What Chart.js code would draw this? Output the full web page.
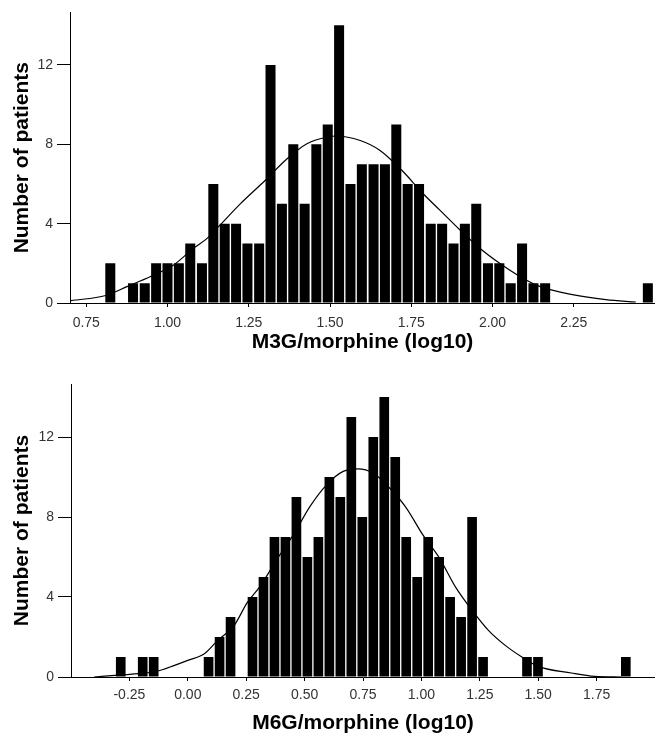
<!DOCTYPE html>
<html>
<head>
<meta charset="utf-8">
<script src="https://cdn.jsdelivr.net/npm/chart.js@4.4.0/dist/chart.umd.min.js"></script>
<style>
    body { margin: 0; background: #fff; overflow: hidden; }
    #top { position: absolute; left: 0; top: 0; }
    #bottom { position: absolute; left: 0; top: 360px; }
</style>
</head>
<body>
<canvas id="top" width="655" height="360"></canvas>
<canvas id="bottom" width="655" height="373"></canvas>
<script>
// M3G/morphine histogram: bin centres (log10) and patient counts
const m3gBins = [0.824, 0.859, 0.894, 0.930, 0.965, 1.000, 1.035, 1.070, 1.106, 1.141,
    1.176, 1.211, 1.246, 1.282, 1.317, 1.352, 1.387, 1.422, 1.458, 1.493,
    1.528, 1.563, 1.598, 1.634, 1.669, 1.704, 1.739, 1.774, 1.810, 1.845,
    1.880, 1.915, 1.950, 1.986, 2.021, 2.056, 2.091, 2.126, 2.162, 2.197,
    2.232, 2.267, 2.302, 2.338, 2.373, 2.408, 2.443, 2.478];
const m3gCounts = [2, 0, 1, 1, 2, 2, 2, 3, 2, 6,
    4, 4, 3, 3, 12, 5, 8, 5, 8, 9,
    14, 6, 7, 7, 7, 9, 6, 6, 4, 4,
    3, 4, 5, 2, 2, 1, 3, 1, 1, 0,
    0, 0, 0, 0, 0, 0, 0, 1];
// fitted normal curve
const m3gCurveX = [0.703, 0.810, 0.877, 0.948, 1.019, 1.080, 1.122, 1.157, 1.224, 1.301,
    1.368, 1.429, 1.490, 1.520, 1.593, 1.654, 1.721, 1.786, 1.838, 1.900,
    1.961, 2.022, 2.084, 2.145, 2.246, 2.349, 2.441];
const m3gCurveY = [0.12, 0.38, 0.84, 1.34, 1.92, 2.76, 3.26, 3.85, 5.0, 6.19,
    7.27, 8.03, 8.36, 8.42, 8.19, 7.69, 6.69, 5.52, 4.68, 3.68,
    2.76, 2.0, 1.34, 0.84, 0.42, 0.17, 0.05];
const m3gTicks = [0.75, 1.00, 1.25, 1.50, 1.75, 2.00, 2.25];

// M6G/morphine histogram
const m6gBins = [-0.287, -0.240, -0.193, -0.146, -0.099, -0.052, -0.005, 0.042, 0.089, 0.136,
    0.183, 0.230, 0.277, 0.324, 0.371, 0.418, 0.465, 0.512, 0.559, 0.606,
    0.653, 0.700, 0.747, 0.794, 0.841, 0.888, 0.935, 0.982, 1.029, 1.076,
    1.123, 1.170, 1.217, 1.264, 1.311, 1.358, 1.405, 1.452, 1.499, 1.546,
    1.593, 1.640, 1.687, 1.734, 1.781, 1.828, 1.875];
const m6gCounts = [1, 0, 1, 1, 0, 0, 0, 0, 1, 2,
    3, 0, 4, 5, 7, 7, 9, 6, 7, 10,
    9, 13, 8, 12, 14, 11, 7, 5, 7, 6,
    4, 3, 8, 1, 0, 0, 0, 1, 1, 0,
    0, 0, 0, 0, 0, 0, 1];
const m6gCurveX = [-0.401, -0.266, -0.212, -0.127, -0.057, 0.000, 0.071, 0.127, 0.198, 0.255,
    0.311, 0.382, 0.453, 0.524, 0.595, 0.665, 0.728, 0.793, 0.864, 0.935,
    1.005, 1.076, 1.147, 1.218, 1.288, 1.359, 1.430, 1.500, 1.642, 1.742, 1.855];
const m6gCurveY = [0, 0.12, 0.17, 0.30, 0.58, 0.83, 1.16, 1.82, 2.57, 3.73,
    4.56, 5.89, 7.13, 8.54, 9.62, 10.28, 10.41, 10.2, 9.45, 8.46,
    7.13, 5.97, 4.48, 3.32, 2.32, 1.58, 1.0, 0.53, 0.2, 0.03, 0];
const m6gTicks = [-0.25, 0.00, 0.25, 0.50, 0.75, 1.00, 1.25, 1.50, 1.75];

const countTicks = [0, 4, 8, 12];

const FONT = "'Liberation Sans', Arial, sans-serif";

/**
 * Builds one histogram with its normal curve on a linear x axis
 */
function drawHistogram(canvasId, bins, counts, curveX, curveY, xTicks, xMin, xMax, xTitle, layout) {
    const bars = bins.map((x, i) => ({ x: x, y: counts[i] }));
    const curve = curveX.map((x, i) => ({ x: x, y: curveY[i] }));

    new Chart(canvasId, {
        type: "bar",
        data: {
            datasets: [{
                type: "line",
                data: curve,
                borderColor: "#000",
                borderWidth: 1.2,
                pointRadius: 0,
                fill: false,
                cubicInterpolationMode: "monotone",
                order: 0
            }, {
                type: "bar",
                data: bars,
                backgroundColor: "#000",
                borderWidth: 0,
                barPercentage: 0.88,
                categoryPercentage: 1.0,
                order: 1
            }]
        },
        options: {
            responsive: false,
            animation: false,
            layout: { padding: { top: layout.top, right: 0, left: 0, bottom: 0 } },
            plugins: { legend: { display: false }, tooltip: { enabled: false } },
            scales: {
                x: {
                    type: "linear",
                    min: xMin,
                    max: xMax,
                    offset: false,
                    afterBuildTicks: function (s) { s.ticks = xTicks.map(v => ({ value: v })); },
                    afterFit: function (s) { s.height = layout.xHeight; },
                    grid: { offset: false, drawOnChartArea: false, drawTicks: true, tickLength: 4, color: "#000" },
                    border: { display: true, color: "#000", width: 1 },
                    ticks: {
                        padding: layout.tickPad,
                        maxRotation: 0,
                        color: "#333",
                        font: { family: FONT, size: 14 },
                        callback: v => v.toFixed(2)
                    },
                    title: {
                        display: true,
                        text: xTitle,
                        color: "#000",
                        font: { family: FONT, size: 21, weight: "bold" },
                        padding: { top: 0, bottom: layout.titlePad }
                    }
                },
                y: {
                    min: 0,
                    max: 14.65,
                    afterBuildTicks: function (s) { s.ticks = countTicks.map(v => ({ value: v })); },
                    afterFit: function (s) { s.width = layout.yWidth; },
                    grid: { drawOnChartArea: false, drawTicks: true, tickLength: 13, color: "#000" },
                    border: { display: true, color: "#000", width: 1 },
                    ticks: {
                        padding: 4,
                        color: "#333",
                        font: { family: FONT, size: 14 },
                        callback: v => String(v)
                    },
                    title: {
                        display: true,
                        text: "Number of patients",
                        color: "#000",
                        font: { family: FONT, size: 21, weight: "bold" },
                        padding: { top: 10, bottom: 0 }
                    }
                }
            }
        }
    });
}

drawHistogram("top", m3gBins, m3gCounts, m3gCurveX, m3gCurveY, m3gTicks, 0.7, 2.5,
    "M3G/morphine (log10)", { top: 12, xHeight: 57, yWidth: 70, titlePad: 5, tickPad: 8 });
drawHistogram("bottom", m6gBins, m6gCounts, m6gCurveX, m6gCurveY, m6gTicks, -0.5, 2.0,
    "M6G/morphine (log10)", { top: 24, xHeight: 56, yWidth: 71, titlePad: -3, tickPad: 6 });
</script>
</body>
</html>
